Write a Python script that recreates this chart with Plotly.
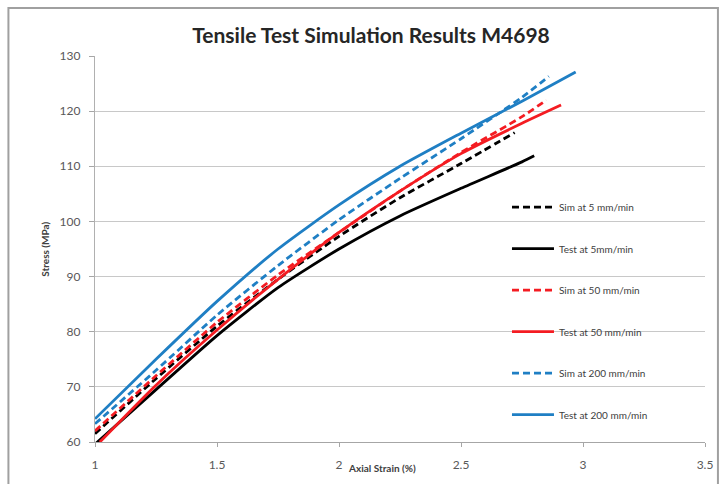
import plotly.graph_objects as go

# ---- data ----
sim5_x = [1.0, 1.25, 1.5, 1.75, 2.0, 2.25, 2.5, 2.72]
sim5_y = [61.5, 71.5, 81.0, 89.5, 97.3, 104.3, 110.5, 116.1]

test5_x = [1.0, 1.25, 1.5, 1.75, 2.0, 2.25, 2.5, 2.75, 2.80]
test5_y = [59.6, 69.5, 79.3, 88.0, 95.0, 101.0, 106.0, 110.8, 111.9]

sim50_x = [1.0, 1.25, 1.5, 1.75, 2.0, 2.25, 2.5, 2.75, 2.85]
sim50_y = [62.0, 72.0, 81.7, 90.3, 98.0, 105.5, 112.5, 119.0, 122.0]

test50_x = [1.02, 1.25, 1.5, 1.75, 2.0, 2.25, 2.5, 2.75, 2.91]
test50_y = [60.0, 70.3, 80.3, 89.5, 98.0, 105.5, 112.3, 117.8, 121.1]

sim200_x = [1.0, 1.25, 1.5, 1.75, 2.0, 2.25, 2.5, 2.75, 2.86]
sim200_y = [63.3, 73.0, 83.0, 92.0, 100.3, 107.8, 115.0, 122.5, 126.3]

test200_x = [1.0, 1.25, 1.5, 1.75, 2.0, 2.25, 2.5, 2.75, 2.97]
test200_y = [64.2, 75.0, 85.5, 95.0, 103.0, 110.0, 116.0, 121.8, 127.1]

series = [
    ("Sim at 5 mm/min", sim5_x, sim5_y, "#000000", "7px,4px"),
    ("Test at 5mm/min", test5_x, test5_y, "#000000", "solid"),
    ("Sim at 50 mm/min", sim50_x, sim50_y, "#f41c22", "7px,4px"),
    ("Test at 50 mm/min", test50_x, test50_y, "#f41c22", "solid"),
    ("Sim at 200 mm/min", sim200_x, sim200_y, "#1f7fc4", "7px,4px"),
    ("Test at 200 mm/min", test200_x, test200_y, "#1f7fc4", "solid"),
]

x_ticks = [1, 1.5, 2, 2.5, 3, 3.5]
x_ticklabels = ["1", "1.5", "2", "2.5", "3", "3.5"]
y_ticks = [60, 70, 80, 90, 100, 110, 120, 130]

fig = go.Figure()
for i, (name, xs, ys, col, dash) in enumerate(series):
    fig.add_trace(go.Scatter(
        x=xs, y=ys, name=name, mode="lines", legendgroup=f"g{i}",
        line=dict(color=col, width=2.8, dash=dash, shape="spline", smoothing=0.6),
    ))

L, R, T, B = 95, 17, 56, 41
W, H = 725, 484
pw, ph = W - L - R, H - T - B

def px2x(px):
    return (px - L) / pw

def py2y(py):
    return (H - B - py) / ph

fig.update_layout(
    width=W, height=H,
    margin=dict(l=L, r=R, t=T, b=B),
    paper_bgcolor="white", plot_bgcolor="white",
    font=dict(family="Lato, Liberation Sans, sans-serif", color="#595959"),
    title=dict(text="<b>Tensile Test Simulation Results M4698</b>",
               x=371 / W, xanchor="center", y=1 - 36 / H, yanchor="middle",
               font=dict(size=21, color="#262626", family="Lato, sans-serif")),
    showlegend=True,
    legend=dict(x=px2x(509), y=py2y(193), xanchor="left", yanchor="top",
                bgcolor="rgba(255,255,255,0)", tracegroupgap=22.5,
                itemwidth=42, font=dict(size=10, color="#404040")),
    xaxis=dict(range=[1, 3.5], tickvals=x_ticks, ticktext=x_ticklabels,
               showgrid=False, zeroline=False, showline=True, linecolor="#a6a6a6",
               linewidth=1.2, ticks="outside", ticklen=4, tickcolor="#a6a6a6",
               tickfont=dict(size=12, color="#595959"), ticklabelstandoff=7),
    yaxis=dict(range=[60, 130], tickvals=y_ticks,
               showgrid=True, gridcolor="#c8c8c8", gridwidth=1.2,
               zeroline=False, showline=True, linecolor="#b0b0b0", linewidth=1.2,
               ticks="outside", ticklen=5, tickcolor="#a6a6a6",
               tickfont=dict(size=12, color="#595959"), ticklabelstandoff=6),
)

fig.add_annotation(text="<b>Axial Strain (%)</b>", x=px2x(383), y=py2y(477),
                   xref="paper", yref="paper", showarrow=False,
                   font=dict(size=10, color="#404040"))
fig.add_annotation(text="<b>Stress (MPa)</b>", x=px2x(37), y=py2y(250),
                   xref="paper", yref="paper", showarrow=False, textangle=-90,
                   font=dict(size=10, color="#404040"))

# outer chart frame
fig.add_shape(type="rect", xref="paper", yref="paper",
              x0=px2x(8), x1=px2x(721), y0=py2y(492), y1=py2y(8),
              line=dict(color="#a0a0a0", width=2), layer="below")

fig.write_html("out.html")
